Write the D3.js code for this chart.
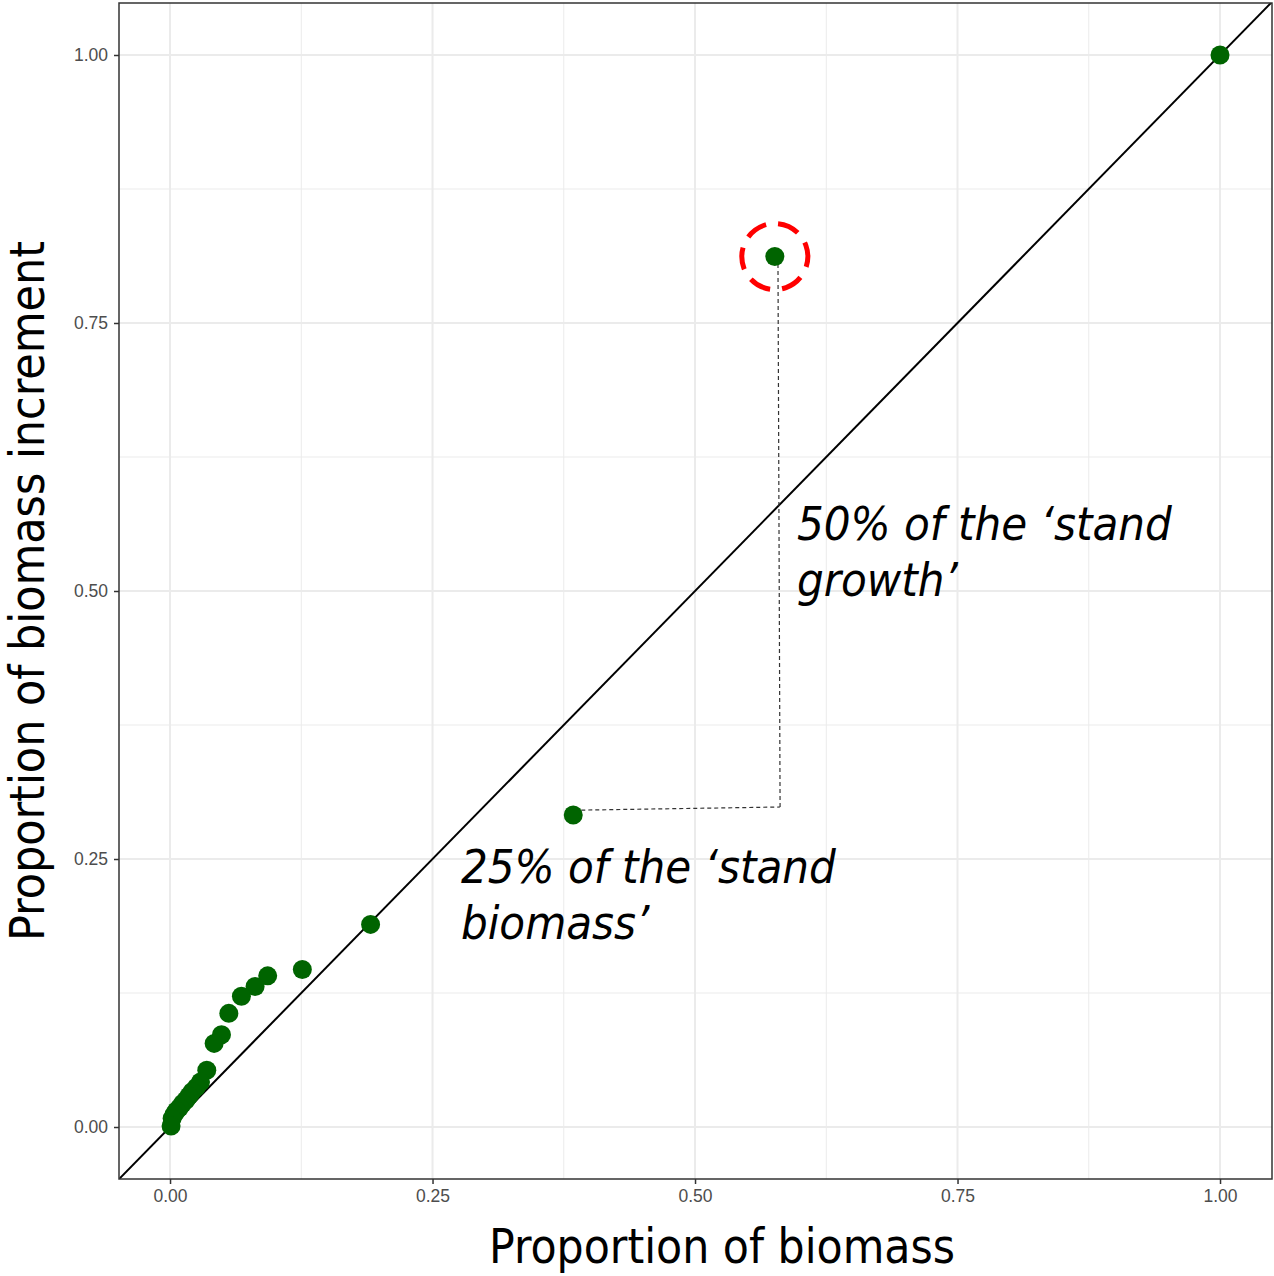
<!DOCTYPE html>
<html><head><meta charset="utf-8">
<script src="https://cdn.jsdelivr.net/npm/d3@7"></script>
<style>body{margin:0;background:#fff}</style>
</head><body>
<script>
const biomass   = [1.00, 0.576, 0.384, 0.191, 0.126, 0.093, 0.081, 0.068, 0.056, 0.049, 0.042, 0.035, 0.029, 0.025, 0.021, 0.018, 0.015, 0.012, 0.009, 0.006, 0.004, 0.002, 0.001];
const increment = [1.00, 0.812, 0.291, 0.189, 0.147, 0.141, 0.131, 0.122, 0.106, 0.086, 0.078, 0.053, 0.042, 0.037, 0.033, 0.029, 0.025, 0.022, 0.018, 0.015, 0.012, 0.008, 0.001];
const majorTicks = [0, 0.25, 0.5, 0.75, 1];
const minorTicks = [0.125, 0.375, 0.625, 0.875];
const tickLabels = ["0.00", "0.25", "0.50", "0.75", "1.00"];
const segH = [[0.385, 0.2955], [0.581, 0.2985]];
const segV = [[0.581, 0.2985], [0.579, 0.806]];
const highlight = [0.576, 0.812];
const annotations = [
  {x: 0.597, y: 0.548, lines: ["50% of the ‘stand", "growth’"]},
  {x: 0.277, y: 0.228, lines: ["25% of the ‘stand", "biomass’"]}
];

const W = 1274, H = 1276;
const m = {l: 119, r: 2, t: 3, b: 97};
const svg = d3.select("body").append("svg").attr("width", W).attr("height", H);
const x = d3.scaleLinear().domain([-0.0486, 1.0495]).range([m.l, W - m.r]);
const y = d3.scaleLinear().domain([-0.0485, 1.0485]).range([H - m.b, m.t]);
const pw = W - m.r - m.l, ph = H - m.b - m.t;

svg.append("clipPath").attr("id", "clip").append("rect")
  .attr("x", m.l).attr("y", m.t).attr("width", pw).attr("height", ph);

const grid = svg.append("g");
minorTicks.forEach(v => {
  grid.append("line").attr("x1", x(v)).attr("x2", x(v)).attr("y1", m.t).attr("y2", H - m.b)
    .attr("stroke", "#ebebeb").attr("stroke-width", 1);
  grid.append("line").attr("y1", y(v)).attr("y2", y(v)).attr("x1", m.l).attr("x2", W - m.r)
    .attr("stroke", "#ebebeb").attr("stroke-width", 1);
});
majorTicks.forEach(v => {
  grid.append("line").attr("x1", x(v)).attr("x2", x(v)).attr("y1", m.t).attr("y2", H - m.b)
    .attr("stroke", "#ebebeb").attr("stroke-width", 2);
  grid.append("line").attr("y1", y(v)).attr("y2", y(v)).attr("x1", m.l).attr("x2", W - m.r)
    .attr("stroke", "#ebebeb").attr("stroke-width", 2);
});

const plot = svg.append("g").attr("clip-path", "url(#clip)");
plot.append("line").attr("x1", x(-0.1)).attr("y1", y(-0.1)).attr("x2", x(1.1)).attr("y2", y(1.1))
  .attr("stroke", "#000").attr("stroke-width", 2);

[segH, segV].forEach(s => {
  plot.append("line").attr("x1", x(s[0][0])).attr("y1", y(s[0][1]))
    .attr("x2", x(s[1][0])).attr("y2", y(s[1][1]))
    .attr("stroke", "#333").attr("stroke-width", 1.2).attr("stroke-dasharray", "4,3");
});

plot.selectAll("circle.pt").data(biomass.map((b, i) => [b, increment[i]])).enter()
  .append("circle").attr("class", "pt")
  .attr("cx", d => x(d[0])).attr("cy", d => y(d[1])).attr("r", 9.5)
  .attr("fill", "#006400");

plot.append("circle").attr("cx", x(highlight[0])).attr("cy", y(highlight[1])).attr("r", 33)
  .attr("fill", "none").attr("stroke", "#ff0000").attr("stroke-width", 5)
  .attr("stroke-dasharray", "22,12").attr("transform", `rotate(-20 ${x(highlight[0])} ${y(highlight[1])})`);

annotations.forEach(a => {
  const t = svg.append("text").attr("x", x(a.x)).attr("y", y(a.y))
    .attr("font-family", "DejaVu Sans Condensed, DejaVu Sans").attr("font-style", "italic")
    .attr("font-size", 40).attr("fill", "#000");
  a.lines.forEach((l, i) => t.append("tspan").attr("x", x(a.x)).attr("dy", i === 0 ? 0 : 56).text(l));
  const w = t.select("tspan").node().getComputedTextLength();
  t.attr("font-size", 40 * 375 / w);
});

svg.append("rect").attr("x", m.l).attr("y", m.t).attr("width", pw).attr("height", ph)
  .attr("fill", "none").attr("stroke", "#333").attr("stroke-width", 1.5);

const fmt = (d) => tickLabels[majorTicks.indexOf(d)];
const xa = svg.append("g").attr("transform", `translate(0,${H - m.b})`)
  .call(d3.axisBottom(x).tickValues(majorTicks).tickFormat(fmt).tickSize(5).tickPadding(6));
const ya = svg.append("g").attr("transform", `translate(${m.l},0)`)
  .call(d3.axisLeft(y).tickValues(majorTicks).tickFormat(fmt).tickSize(5).tickPadding(6));
[xa, ya].forEach(g => {
  g.select(".domain").remove();
  g.selectAll(".tick line").attr("stroke", "#333").attr("stroke-width", 1.5);
  g.selectAll(".tick text").attr("fill", "#4d4d4d").attr("font-size", 17.5)
    .attr("font-family", "Liberation Sans, Arial, sans-serif");
});

const xt = svg.append("text").attr("x", 722).attr("y", 1263)
  .attr("text-anchor", "middle").attr("font-family", "DejaVu Sans Condensed, DejaVu Sans")
  .attr("font-size", 44).text("Proportion of biomass");
const xw = xt.node().getComputedTextLength(); xt.attr("font-size", 44 * 466 / xw);
const yt = svg.append("text").attr("transform", `translate(44,${(m.t + H - m.b) / 2}) rotate(-90)`)
  .attr("text-anchor", "middle").attr("font-family", "DejaVu Sans Condensed, DejaVu Sans")
  .attr("font-size", 44).text("Proportion of biomass increment");
const yw = yt.node().getComputedTextLength(); yt.attr("font-size", 44 * 700 / yw);
</script>
</body></html>
